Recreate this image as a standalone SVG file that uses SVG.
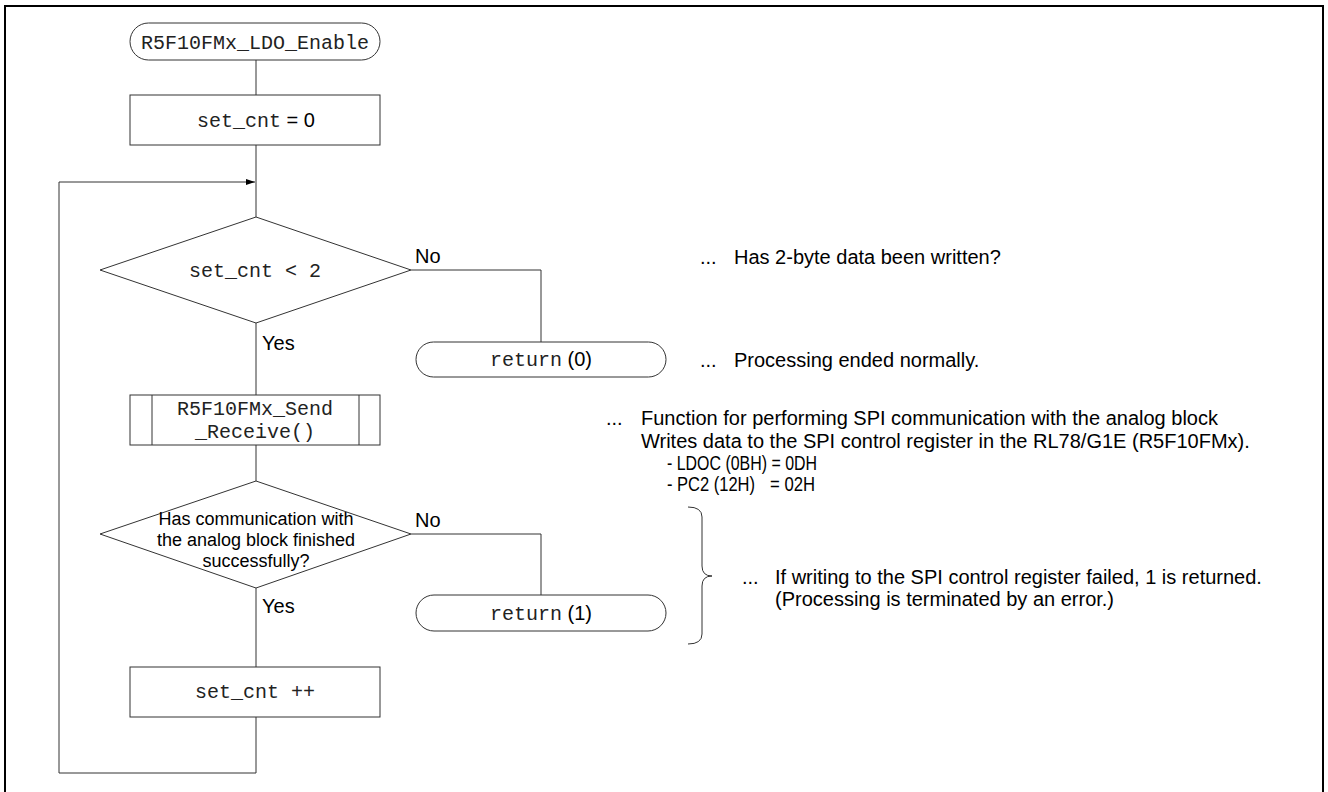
<svg xmlns="http://www.w3.org/2000/svg" width="1328" height="792" viewBox="0 0 1328 792">
<style>
.s{fill:#fff;stroke:#333;stroke-width:1}
.c{fill:none;stroke:#333;stroke-width:1}
.m{font-family:"Liberation Mono","Courier New",monospace;font-size:20px;fill:#222}
.a{font-family:"Liberation Sans",Arial,sans-serif;font-size:20px;fill:#000}
.r{font-family:"Liberation Sans",Arial,sans-serif;font-size:20px;fill:#000}
.d{font-family:"Liberation Sans",Arial,sans-serif;font-size:18px;fill:#000}
</style>
<defs>
<marker id="arr" viewBox="0 0 9 6" refX="9" refY="3" markerWidth="9" markerHeight="6" markerUnits="userSpaceOnUse" orient="auto">
<path d="M0,0 L9,3 L0,6 Z" fill="#000"/>
</marker>
</defs>
<rect width="1328" height="792" fill="#fff"/>
<path d="M5,800 V6 H1323 V800" fill="none" stroke="#000" stroke-width="2"/>

<g id="connectors">
<path class="c" d="M256,60 V95"/>
<path class="c" d="M256,145 V217"/>
<path class="c" d="M256,323 V395"/>
<path class="c" d="M256,445 V481"/>
<path class="c" d="M256,588 V667"/>
<path class="c" d="M256,717 V773 H59 V182 H255" marker-end="url(#arr)"/>
<path class="c" d="M411,270 H541 V342"/>
<path class="c" d="M411,534 H541 V595"/>
<text class="a" x="415" y="263">No</text>
<text class="a" x="262" y="350">Yes</text>
<text class="a" x="415" y="527">No</text>
<text class="a" x="262" y="613">Yes</text>
</g>

<g id="start">
<rect class="s" x="130" y="23" width="250" height="37" rx="18.5"/>
<text class="m" x="255" y="49" text-anchor="middle">R5F10FMx_LDO_Enable</text>
</g>

<g id="init">
<rect class="s" x="130" y="95" width="250" height="50"/>
<text x="197" y="127"><tspan class="m">set_cnt</tspan><tspan class="a"> = 0</tspan></text>
</g>

<g id="check-count">
<polygon class="s" points="256,217 411,270 256,323 100,270"/>
<text class="m" x="255" y="277" text-anchor="middle" xml:space="preserve">set_cnt &lt; 2</text>
</g>

<g id="return0">
<rect class="s" x="416" y="342" width="250" height="35" rx="17.5"/>
<text x="490" y="366"><tspan class="m">return</tspan><tspan class="a"> (0)</tspan></text>
</g>

<g id="send-receive">
<rect class="s" x="130" y="395" width="250" height="50"/>
<path class="c" d="M152,395 V445 M359,395 V445"/>
<text class="m" x="255" y="415" text-anchor="middle">R5F10FMx_Send</text>
<text class="m" x="255" y="438" text-anchor="middle">_Receive()</text>
</g>

<g id="check-comm">
<polygon class="s" points="256,481 411,534 256,588 100,534"/>
<text class="d" x="256" y="525" text-anchor="middle">Has communication with</text>
<text class="d" x="256" y="546" text-anchor="middle">the analog block finished</text>
<text class="d" x="256" y="567" text-anchor="middle">successfully?</text>
</g>

<g id="return1">
<rect class="s" x="416" y="595" width="250" height="36" rx="18"/>
<text x="490" y="620"><tspan class="m">return</tspan><tspan class="a"> (1)</tspan></text>
</g>

<g id="increment">
<rect class="s" x="130" y="667" width="250" height="50"/>
<text class="m" x="255" y="698" text-anchor="middle">set_cnt ++</text>
</g>

<g id="notes">
<text class="a" x="700" y="264">...</text>
<text class="a" x="734" y="264">Has 2-byte data been written?</text>
<text class="a" x="700" y="367">...</text>
<text class="a" x="734" y="367">Processing ended normally.</text>
<text class="a" x="606" y="425">...</text>
<text class="a" x="641" y="425">Function for performing SPI communication with the analog block</text>
<text class="a" x="641" y="448">Writes data to the SPI control register in the RL78/G1E (R5F10FMx).</text>
<text class="r" x="667" y="470" textLength="150" lengthAdjust="spacingAndGlyphs">- LDOC (0BH) = 0DH</text>
<text class="r" x="667" y="491" textLength="88" lengthAdjust="spacingAndGlyphs">- PC2 (12H)</text>
<text class="r" x="770" y="491" textLength="45" lengthAdjust="spacingAndGlyphs">= 02H</text>
<path class="c" d="M688,507 Q702,507 702,517 V566 Q702,576 712,576 Q702,576 702,586 V634 Q702,644 688,644"/>
<text class="a" x="742" y="584">...</text>
<text class="a" x="775" y="584">If writing to the SPI control register failed, 1 is returned.</text>
<text class="a" x="775" y="606">(Processing is terminated by an error.)</text>
</g>
</svg>
